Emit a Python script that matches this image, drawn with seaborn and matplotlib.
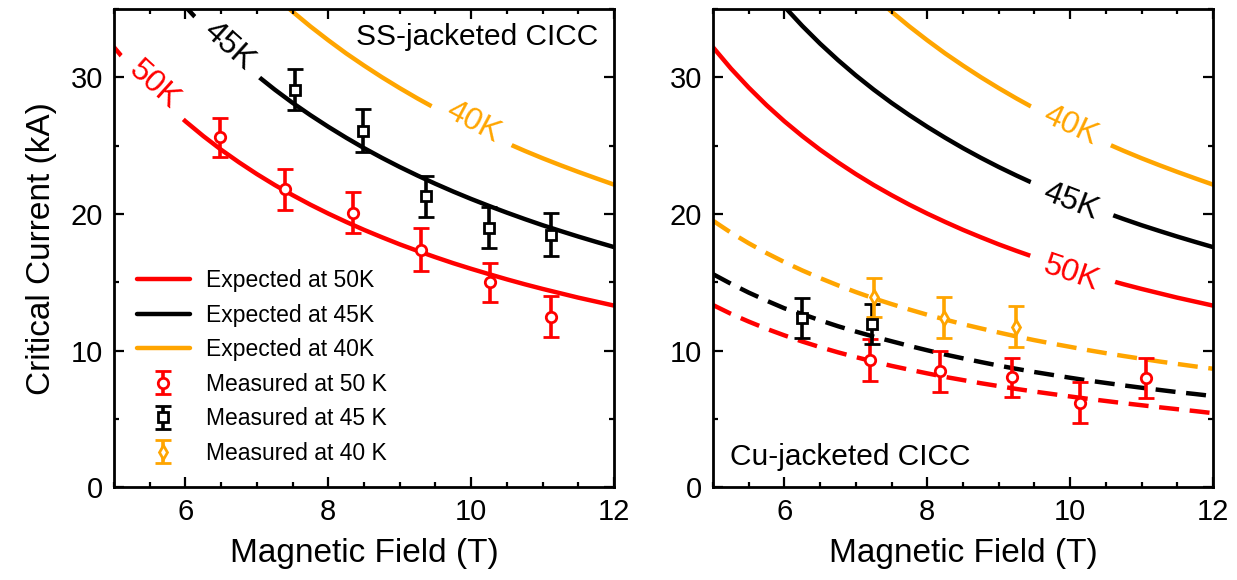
import matplotlib
matplotlib.use('Agg')
import matplotlib.pyplot as plt
from matplotlib.ticker import MultipleLocator
import seaborn as sns

# magnetic field grid (T) for the expected curves
field = [5.0, 5.25, 5.5, 5.75, 6.0, 6.25, 6.5, 6.75, 7.0, 7.25, 7.5, 7.75, 8.0, 8.25, 8.5,
         8.75, 9.0, 9.25, 9.5, 9.75, 10.0, 10.25, 10.5, 10.75, 11.0, 11.25, 11.5, 11.75, 12.0]

# expected critical current (kA)
exp_50k = [32.2, 30.65, 29.25, 27.96, 26.78, 25.70, 24.70, 23.78, 22.92, 22.12, 21.38, 20.68, 20.03, 19.42, 18.84,
           18.30, 17.78, 17.30, 16.84, 16.40, 15.99, 15.60, 15.22, 14.86, 14.52, 14.20, 13.88, 13.59, 13.30]
exp_45k = [42.2, 40.19, 38.36, 36.70, 35.17, 33.76, 32.46, 31.26, 30.14, 29.10, 28.13, 27.23, 26.38, 25.58, 24.82,
           24.11, 23.44, 22.81, 22.21, 21.64, 21.10, 20.59, 20.10, 19.63, 19.18, 18.76, 18.35, 17.96, 17.58]
exp_40k = [51.38, 49.0, 46.88, 44.9, 43.12, 41.5, 39.93, 38.5, 37.18, 35.95, 34.8, 33.72, 32.71, 31.75, 30.86,
           30.01, 29.21, 28.45, 27.73, 27.05, 26.39, 25.78, 25.19, 24.62, 24.08, 23.57, 23.08, 22.61, 22.15]

# expected for the Cu-jacketed conductor (dashed curves)
cu_50k = [13.34, 12.70, 12.13, 11.60, 11.12, 10.67, 10.26, 9.88, 9.53, 9.20, 8.89, 8.61, 8.34, 8.08, 7.85,
          7.62, 7.41, 7.20, 7.01, 6.83, 6.65, 6.48, 6.32, 6.16, 6.01, 5.86, 5.72, 5.58, 5.43]
cu_45k = [15.6, 14.9, 14.25, 13.66, 13.1, 12.68, 12.22, 11.79, 11.4, 11.03, 10.69, 10.35, 10.03, 9.72, 9.44,
          9.17, 8.91, 8.67, 8.44, 8.23, 8.02, 7.82, 7.64, 7.46, 7.29, 7.13, 6.97, 6.83, 6.68]
cu_40k = [19.51, 18.64, 17.86, 17.14, 16.48, 15.87, 15.31, 14.78, 14.29, 13.83, 13.41, 13.01, 12.63, 12.28, 11.94,
          11.63, 11.33, 11.04, 10.77, 10.52, 10.28, 10.04, 9.82, 9.61, 9.41, 9.21, 9.03, 8.85, 8.68]

# measured, SS-jacketed CICC
ss_b50 = [6.49, 7.40, 8.34, 9.30, 10.27, 11.12]
ss_i50 = [25.6, 21.8, 20.1, 17.4, 15.0, 12.5]
ss_e50 = [1.45, 1.5, 1.5, 1.55, 1.45, 1.5]
ss_b45 = [7.53, 8.48, 9.37, 10.25, 11.12]
ss_i45 = [29.1, 26.1, 21.3, 19.0, 18.5]
ss_e45 = [1.5, 1.55, 1.5, 1.5, 1.55]

# measured, Cu-jacketed CICC
cu_b50 = [7.20, 8.18, 9.18, 10.14, 11.06]
cu_i50 = [9.3, 8.5, 8.05, 6.2, 8.0]
cu_e50 = [1.55, 1.5, 1.45, 1.5, 1.45]
cu_b45 = [6.24, 7.22]
cu_i45 = [12.4, 11.95]
cu_e45 = [1.45, 1.45]
cu_b40 = [7.25, 8.24, 9.24]
cu_i40 = [13.9, 12.4, 11.75]
cu_e40 = [1.45, 1.5, 1.5]

RED, BLACK, ORANGE = '#ff0000', '#000000', '#ffa500'

sns.set_style('ticks')
plt.rcParams['font.family'] = ['Liberation Sans', 'DejaVu Sans']
plt.rcParams['text.color'] = 'black'
plt.rcParams['axes.labelcolor'] = 'black'

fig = plt.figure(figsize=(12.37, 5.8), dpi=100)
ax1 = fig.add_axes([0.0922, 0.1597, 0.4042, 0.8248])
ax2 = fig.add_axes([0.5764, 0.1597, 0.4042, 0.8248])

eb_kw = dict(mfc='white', mew=2, elinewidth=2.6, capsize=5.5, capthick=2.6, ls='none', zorder=4)


def style_axis(ax):
  ax.set_xlim(5, 12)
  ax.set_ylim(0, 35)
  ax.xaxis.set_major_locator(MultipleLocator(2))
  ax.xaxis.set_minor_locator(MultipleLocator(0.5))
  ax.yaxis.set_major_locator(MultipleLocator(10))
  ax.yaxis.set_minor_locator(MultipleLocator(5))
  ax.tick_params(which='both', direction='in', top=True, right=True, width=1.6, colors='black')
  ax.tick_params(which='major', length=7.5, labelsize=21, pad=8)
  ax.tick_params(which='minor', length=3.8)
  for s in ax.spines.values():
    s.set_linewidth(2.0)
    s.set_color('black')
  ax.set_xlabel('Magnetic Field (T)', fontsize=24, labelpad=8)
  ax.set_axisbelow(False)


def curve_label(ax, x, y, txt, color, rot):
  # white box hides the curve under the inline label
  ax.text(x, y, txt, color=color, fontsize=23, rotation=rot, ha='center', va='center',
          rotation_mode='anchor', zorder=2.2, clip_on=True,
          bbox=dict(boxstyle='square,pad=0.5', fc='white', ec='none'))


# ---- left panel: SS-jacketed
for vals, col, lab in [(exp_50k, RED, 'Expected at 50K'), (exp_45k, BLACK, 'Expected at 45K'),
                       (exp_40k, ORANGE, 'Expected at 40K')]:
  sns.lineplot(x=field, y=vals, ax=ax1, color=col, lw=3.2, label=lab, zorder=2)

h50 = ax1.errorbar(ss_b50, ss_i50, yerr=ss_e50, fmt='o', ms=7.5, color=RED, mec=RED, label='Measured at 50 K', **eb_kw)
h45 = ax1.errorbar(ss_b45, ss_i45, yerr=ss_e45, fmt='s', ms=7.5, color=BLACK, mec=BLACK, label='Measured at 45 K', **eb_kw)

curve_label(ax1, 5.56, 29.4, '50K', RED, -42)
curve_label(ax1, 6.60, 32.3, '45K', BLACK, -42)
curve_label(ax1, 10.03, 26.7, '40K', ORANGE, -28)
ax1.text(0.968, 0.942, 'SS-jacketed CICC', transform=ax1.transAxes, ha='right', va='center', fontsize=21.5)

# ---- right panel: Cu-jacketed
for vals, col in [(exp_50k, RED), (exp_45k, BLACK), (exp_40k, ORANGE)]:
  sns.lineplot(x=field, y=vals, ax=ax2, color=col, lw=3.2, zorder=2)
for vals, col in [(cu_50k, RED), (cu_45k, BLACK), (cu_40k, ORANGE)]:
  sns.lineplot(x=field, y=vals, ax=ax2, color=col, lw=3.2, linestyle=(0, (4.5, 2.4)), zorder=2)

ax2.errorbar(cu_b50, cu_i50, yerr=cu_e50, fmt='o', ms=7.5, color=RED, mec=RED, **eb_kw)
ax2.errorbar(cu_b45, cu_i45, yerr=cu_e45, fmt='s', ms=7.5, color=BLACK, mec=BLACK, **eb_kw)
h40 = ax2.errorbar(cu_b40, cu_i40, yerr=cu_e40, fmt='d', ms=7.5, color=ORANGE, mec=ORANGE,
                   label='Measured at 40 K', **eb_kw)

curve_label(ax2, 10.01, 26.45, '40K', ORANGE, -25)
curve_label(ax2, 10.01, 20.9, '45K', BLACK, -21)
curve_label(ax2, 10.01, 15.6, '50K', RED, -19)
ax2.text(0.033, 0.064, 'Cu-jacketed CICC', transform=ax2.transAxes, ha='left', va='center', fontsize=21.5)

for ax in (ax1, ax2):
  style_axis(ax)
ax1.set_ylabel('Critical Current (kA)', fontsize=24, labelpad=10)
ax2.set_ylabel('')
if ax2.get_legend() is not None:
  ax2.get_legend().remove()

lines = ax1.get_lines()[:3]
handles = list(lines) + [h50, h45, h40]
labels = ['Expected at 50K', 'Expected at 45K', 'Expected at 40K',
          'Measured at 50 K', 'Measured at 45 K', 'Measured at 40 K']
ax1.legend(handles, labels, loc='lower left', frameon=False, fontsize=16.5,
           handlelength=2.3, handletextpad=0.7, labelspacing=0.5,
           borderaxespad=0.3, bbox_to_anchor=(0.014, 0.014))

fig.savefig('out.png', dpi=100)
